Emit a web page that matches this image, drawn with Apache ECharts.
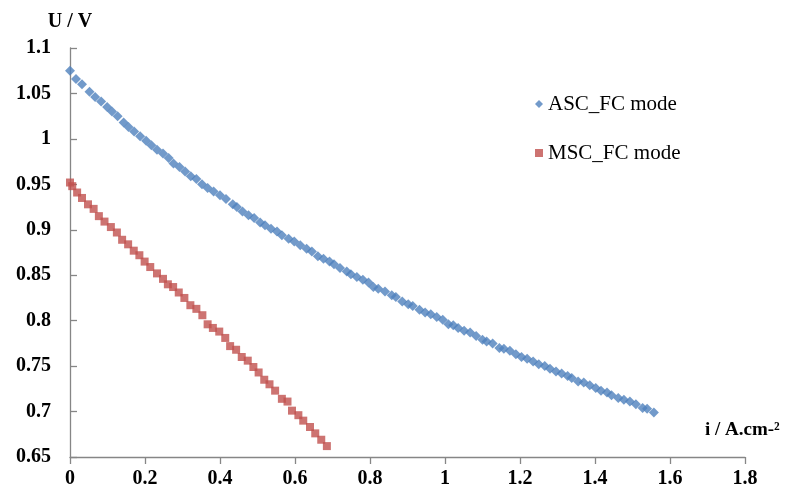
<!DOCTYPE html>
<html>
<head>
<meta charset="utf-8">
<script src="https://cdn.jsdelivr.net/npm/echarts@6/dist/echarts.min.js"></script>
<style>
  html, body { margin: 0; padding: 0; background: #ffffff; }
  #chart { width: 793px; height: 491px; }
</style>
</head>
<body>
<div id="chart"></div>
<script>
// Polarisation curves: cell voltage vs current density
const seriesNames = ['ASC_FC mode', 'MSC_FC mode'];

// ASC_FC mode: current density (A/cm2) and voltage (V)
const ascCurrent = [
  0, 0.016, 0.032, 0.052, 0.067, 0.083, 0.099, 0.112, 0.127, 0.143,
  0.156, 0.171, 0.187, 0.203, 0.217, 0.232, 0.248, 0.263, 0.276, 0.292,
  0.307, 0.322, 0.337, 0.352, 0.367, 0.383, 0.400, 0.416, 0.434, 0.445,
  0.460, 0.476, 0.491, 0.507, 0.520, 0.536, 0.552, 0.565, 0.583, 0.598,
  0.614, 0.631, 0.645, 0.661, 0.676, 0.692, 0.704, 0.720, 0.738, 0.749,
  0.765, 0.781, 0.796, 0.809, 0.822, 0.840, 0.858, 0.869, 0.886, 0.902,
  0.914, 0.932, 0.947, 0.962, 0.978, 0.994, 1.009, 1.022, 1.035, 1.051,
  1.067, 1.083, 1.100, 1.111, 1.127, 1.145, 1.157, 1.173, 1.189, 1.204,
  1.219, 1.235, 1.250, 1.266, 1.280, 1.296, 1.311, 1.327, 1.338, 1.355,
  1.370, 1.386, 1.402, 1.416, 1.432, 1.444, 1.462, 1.477, 1.493, 1.509,
  1.527, 1.539, 1.557
];
const ascVoltage = [
  1.075, 1.066, 1.060, 1.052, 1.046, 1.041, 1.035, 1.030, 1.025, 1.018,
  1.013, 1.008, 1.003, 0.998, 0.993, 0.988, 0.984, 0.979, 0.973, 0.969,
  0.964, 0.959, 0.956, 0.950, 0.946, 0.942, 0.938, 0.934, 0.928, 0.925,
  0.920, 0.916, 0.913, 0.908, 0.905, 0.901, 0.898, 0.894, 0.890, 0.887,
  0.883, 0.879, 0.876, 0.871, 0.868, 0.865, 0.862, 0.858, 0.854, 0.851,
  0.848, 0.845, 0.842, 0.837, 0.835, 0.832, 0.828, 0.826, 0.821, 0.818,
  0.816, 0.812, 0.809, 0.807, 0.804, 0.801, 0.796, 0.795, 0.792, 0.789,
  0.787, 0.783, 0.779, 0.777, 0.775, 0.770, 0.769, 0.767, 0.763, 0.760,
  0.758, 0.755, 0.752, 0.750, 0.747, 0.744, 0.742, 0.739, 0.737, 0.733,
  0.732, 0.729, 0.726, 0.723, 0.721, 0.718, 0.715, 0.713, 0.711, 0.708,
  0.704, 0.703, 0.699
];

// MSC_FC mode: current density (A/cm2) and voltage (V)
const mscCurrent = [
  0, 0.006, 0.019, 0.032, 0.048, 0.063, 0.077, 0.092, 0.109, 0.125,
  0.139, 0.155, 0.170, 0.185, 0.199, 0.214, 0.232, 0.248, 0.261, 0.275,
  0.290, 0.305, 0.321, 0.337, 0.353, 0.367, 0.381, 0.398, 0.414, 0.427,
  0.443, 0.458, 0.474, 0.489, 0.503, 0.518, 0.532, 0.547, 0.565, 0.580,
  0.592, 0.609, 0.622, 0.640, 0.654, 0.670, 0.685
];
const mscVoltage = [
  0.952, 0.948, 0.941, 0.935, 0.928, 0.923, 0.915, 0.909, 0.903, 0.897,
  0.889, 0.884, 0.877, 0.872, 0.865, 0.859, 0.852, 0.846, 0.840, 0.837,
  0.831, 0.825, 0.817, 0.813, 0.806, 0.796, 0.792, 0.788, 0.781, 0.772,
  0.768, 0.760, 0.756, 0.749, 0.743, 0.735, 0.730, 0.723, 0.714, 0.711,
  0.701, 0.696, 0.690, 0.683, 0.676, 0.669, 0.662
];

// Axis settings
const xTicks = { min: 0, max: 1.8, interval: 0.2 };
const yTicks = { min: 0.65, max: 1.1, interval: 0.05 };
const yAxisTitle = 'U / V';
const xAxisTitle = 'i / A.cm-²';

const pairs = (xs, ys) => xs.map((x, i) => [x, ys[i]]);
const fmt = v => String(parseFloat(v.toFixed(2)));

const axisGray = '#868686';
const serif = '"Liberation Serif", "Times New Roman", serif';

const chart = echarts.init(document.getElementById('chart'), null, { renderer: 'canvas' });
chart.setOption({
  backgroundColor: '#ffffff',
  animation: false,
  grid: { left: 70, right: 48, top: 48, bottom: 34, containLabel: false },
  xAxis: {
    type: 'value',
    min: xTicks.min, max: xTicks.max, interval: xTicks.interval,
    axisLine: { show: true, onZero: false, lineStyle: { color: axisGray, width: 1.3 } },
    axisTick: { show: true, inside: false, length: 7, lineStyle: { color: axisGray, width: 1.3 } },
    splitLine: { show: false },
    axisLabel: {
      formatter: fmt, margin: 12,
      color: '#000', fontFamily: serif, fontWeight: 'bold', fontSize: 20
    }
  },
  yAxis: {
    type: 'value',
    min: yTicks.min, max: yTicks.max, interval: yTicks.interval,
    name: yAxisTitle,
    nameLocation: 'end',
    nameGap: 16,
    nameTextStyle: { color: '#000', fontFamily: serif, fontWeight: 'bold', fontSize: 20 },
    axisLine: { show: true, lineStyle: { color: axisGray, width: 1.3 } },
    axisTick: { show: true, inside: true, length: 7, lineStyle: { color: axisGray, width: 1.3 } },
    splitLine: { show: false },
    axisLabel: {
      formatter: fmt, margin: 19,
      color: '#000', fontFamily: serif, fontWeight: 'bold', fontSize: 20
    }
  },
  legend: {
    orient: 'vertical',
    left: 530, top: 88,
    itemWidth: 8, itemHeight: 8,
    itemGap: 27,
    textStyle: { color: '#000', fontFamily: serif, fontSize: 21, lineHeight: 22 },
    data: [
      { name: seriesNames[0], icon: 'diamond' },
      { name: seriesNames[1], icon: 'rect' }
    ]
  },
  graphic: [{
    type: 'text',
    left: 705, top: 421,
    style: { text: xAxisTitle, fill: '#000', font: 'bold 19px ' + serif }
  }],
  series: [
    {
      name: seriesNames[0],
      type: 'scatter',
      symbol: 'diamond',
      symbolSize: 10,
      itemStyle: { color: '#4F81BD' },
      data: pairs(ascCurrent, ascVoltage)
    },
    {
      name: seriesNames[1],
      type: 'scatter',
      symbol: 'rect',
      symbolSize: 8,
      itemStyle: { color: '#C0504D' },
      data: pairs(mscCurrent, mscVoltage)
    }
  ]
});
</script>
</body>
</html>
